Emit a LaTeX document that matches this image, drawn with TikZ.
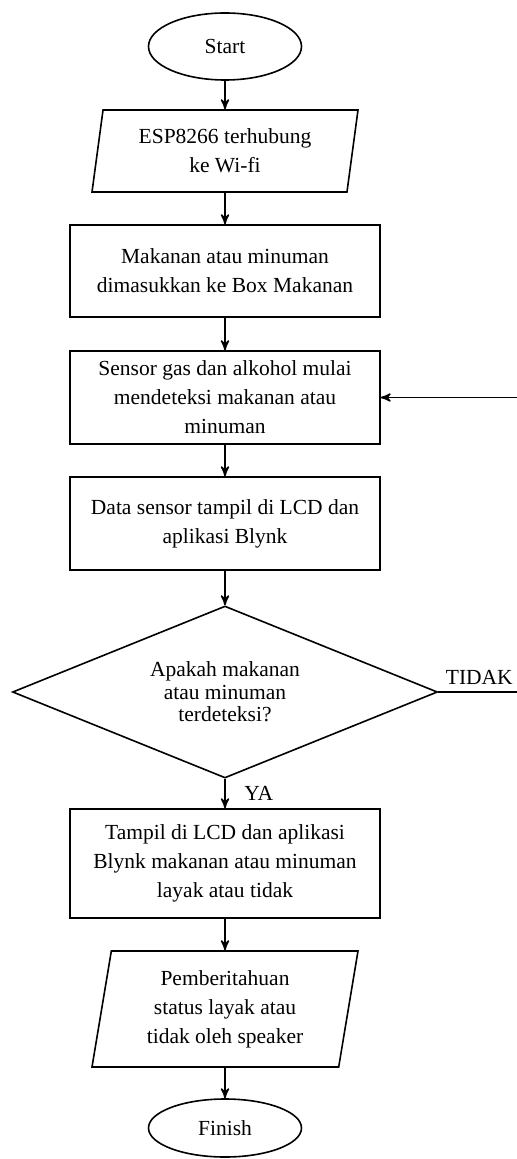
\documentclass[tikz,border=0pt]{standalone}
\usepackage{fontspec}
\setmainfont{Liberation Serif}
\usetikzlibrary{arrows,shapes.geometric}

\begin{document}
\begin{tikzpicture}[x=0.5pt,y=-0.5pt,>=stealth',auto,thick,
                    font=\fontsize{10.75}{14.5}\selectfont,
                    terminal/.style={ellipse,draw,minimum width=76.5pt,minimum height=33.5pt,inner sep=0pt},
                    io/.style={trapezium,draw,trapezium left angle=76,trapezium right angle=104,
                               trapezium stretches body,minimum width=133pt,align=center,inner sep=0pt},
                    process/.style={rectangle,draw,minimum width=155pt,align=center,inner sep=0pt},
                    decision/.style={diamond,draw,minimum width=212.5pt,minimum height=86pt,
                                     shape aspect=2.5,align=center,inner sep=0pt}]
  \useasboundingbox (0,0) rectangle (516,1159);
  \node[terminal] (start) at (225,46.5) {Start};
  \node[io,minimum height=41pt] (wifi) [below of=start,node distance=52.25pt] {ESP8266 terhubung\\ke Wi-fi};
  \node[process,minimum height=46pt] (box) [below of=wifi,node distance=60pt] {Makanan atau minuman\\dimasukkan ke Box Makanan};
  \node[process,minimum height=46.5pt] (sensor) [below of=box,node distance=63.25pt] {Sensor gas dan alkohol mulai\\mendeteksi makanan atau\\minuman};
  \node[process,minimum height=46.5pt] (data) [below of=sensor,node distance=63pt] {Data sensor tampil di LCD dan\\aplikasi Blynk};
  \node[decision,font=\fontsize{10.75}{11.25}\selectfont] (cek) [below of=data,node distance=84.25pt] {Apakah makanan\\atau minuman\\terdeteksi?};
  \node[process,minimum height=54.5pt] (tampil) [below of=cek,node distance=85.75pt] {Tampil di LCD dan aplikasi\\Blynk makanan atau minuman\\layak atau tidak};
  \node[io,minimum height=58pt] (speaker) [below of=tampil,node distance=72.75pt] {Pemberitahuan\\status layak atau\\tidak oleh speaker};
  \node[terminal,minimum height=29pt] (finish) [below of=speaker,node distance=59.5pt] {Finish};
  \coordinate (back) at ([xshift=41pt]cek.east);
  \path[->]
    (start) edge (wifi)
    (wifi) edge (box)
    (box) edge (sensor)
    (sensor) edge (data)
    (data) edge (cek)
    (cek) edge node [xshift=6pt] {YA} (tampil)
    (tampil) edge (speaker)
    (speaker) edge (finish);
  \draw[->] (cek.east) -- node {TIDAK} (back) |- (sensor.east);
\end{tikzpicture}
\end{document}
